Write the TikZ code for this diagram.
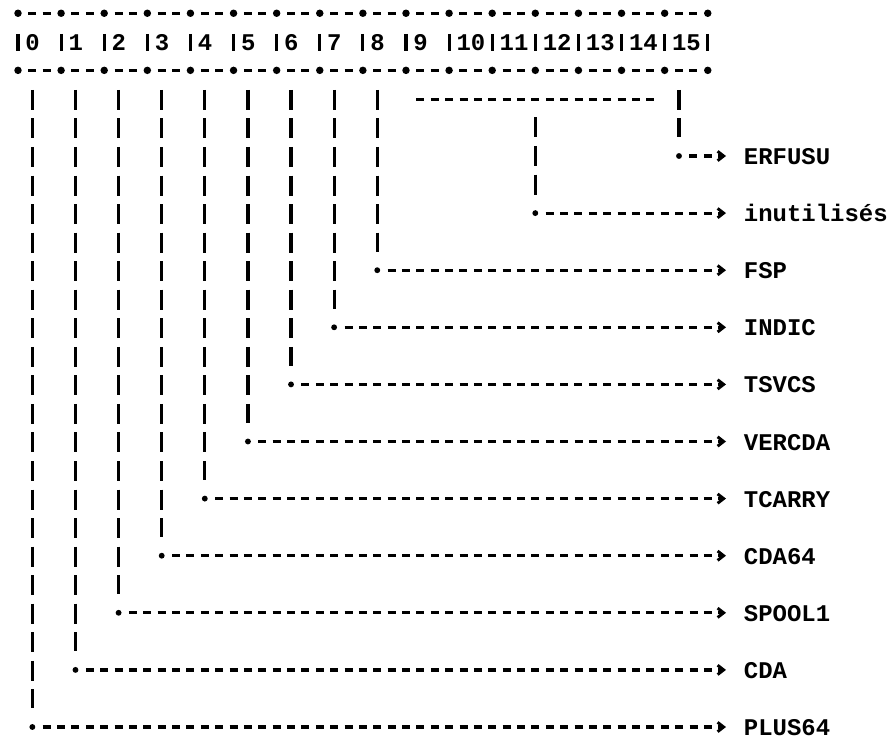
\documentclass[tikz,border=0pt]{standalone}
\usepackage{fontspec}
\setmonofont{Liberation Mono}
\usetikzlibrary{calc,arrows.meta}
\tikzset{
  ink/.style={line width=2.4pt,black},
  vln/.style={ink,dash pattern=on 15pt off 6.41pt},
  hln/.style={ink,dash pattern=on 6pt off 4.78pt},
  hlnarr/.style={hln,-{Straight Barb[length=4.5pt,width=7pt,line width=2.2pt]}},
  hbar/.style={ink},
  dotn/.style={circle,fill=black,inner sep=0pt,minimum size=4.4pt},
  starn/.style={circle,fill=black,inner sep=0pt,minimum size=5.6pt},
  txt/.style={inner sep=0pt,anchor=base west,font=\ttfamily\bfseries\fontsize{17.96pt}{20pt}\selectfont},
}
\begin{document}
\begin{tikzpicture}[x=0.75pt,y=-0.75pt]
\fill[white] (0,0) rectangle (893,742);
\useasboundingbox (0,0) rectangle (893,742);
\coordinate (tip) at (726,0);
% borders
\foreach \i in {0,...,15}{
  \pgfmathsetmacro\xa{18+43.11*\i+10.37}
  \pgfmathsetmacro\xb{18+43.11*\i+32.74}
  \coordinate (ua\i) at (\xa,13.25);
  \coordinate (ub\i) at (\xb,13.25);
  \coordinate (la\i) at (\xa,70.35);
  \coordinate (lb\i) at (\xb,70.35);
  \draw[hln] (ua\i) -- (ub\i);
  \draw[hln] (la\i) -- (lb\i);
}
\foreach \i in {0,...,16}{
  \pgfmathsetmacro\xs{18+43.11*\i}
  \node[starn] (su\i) at (\xs,13.25) {};
  \node[starn] (sl\i) at (\xs,70.35) {};
  \coordinate (bt\i) at (\xs,34);
  \coordinate (bb\i) at (\xs,51.5);
  \draw[hbar] (bt\i) -- (bb\i);
}
% header digits
\foreach \i in {0,...,15}{
  \pgfmathsetmacro\xh{18+43.11*\i+7.19}
  \node[txt] (h\i) at (\xh,50.8) {\i};
}
% bits 0..8
\foreach \i/\lab in {0/PLUS64,1/CDA,2/SPOOL1,3/CDA64,4/TCARRY,5/VERCDA,6/TSVCS,7/INDIC,8/FSP}{
  \pgfmathsetmacro\xx{32.37+43.11*\i}
  \pgfmathsetmacro\yb{13.25+28.55*(24-2*\i)+10}
  \pgfmathsetmacro\yd{13.25+28.55*(25-2*\i)}
  \coordinate (t\i) at (\xx,89.9);
  \coordinate (b\i) at (\xx,\yb);
  \node[dotn] (d\i) at (\xx,\yd) {};
  \node[txt] (L\i) at (743.7,\yd+8.5) {\lab};
  \draw[vln] (t\i) -- (b\i);
  \draw[hlnarr] ($(d\i)+(10.37,0)$) -- (d\i -| tip);
}
% bits 9..14 group
\coordinate (ga) at (416.4,99.9);
\coordinate (gb) at (654.3,99.9);
\draw[hln] (ga) -- (gb);
\coordinate (t12) at (535.3,117.45);
\coordinate (b12) at (535.3,194.55);
\draw[vln] (t12) -- (b12);
\node[dotn] (d12) at (535.3,213.1) {};
\node[txt] (L12) at (743.7,221.6) {inutilisés};
\draw[hlnarr] ($(d12)+(10.37,0)$) -- (d12 -| tip);
% bit 15
\coordinate (t15) at (679,89.9);
\coordinate (b15) at (679,137.45);
\draw[vln] (t15) -- (b15);
\node[dotn] (d15) at (679,156) {};
\node[txt] (L15) at (743.7,164.5) {ERFUSU};
\draw[hlnarr] ($(d15)+(10.37,0)$) -- (d15 -| tip);
\end{tikzpicture}
\end{document}
